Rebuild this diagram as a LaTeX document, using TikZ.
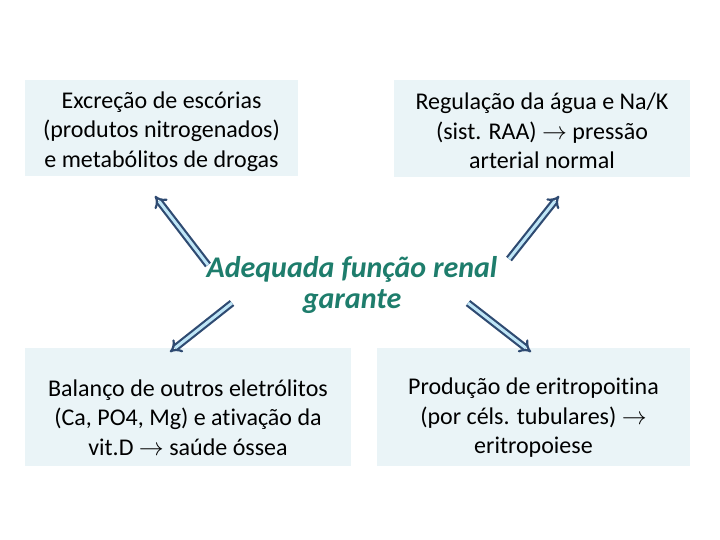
\documentclass[tikz,border=0pt]{standalone}
\usepackage{fontspec}
\setmainfont{Carlito}[Ligatures=NoCommon]
\usetikzlibrary{positioning,arrows.meta}
\definecolor{boxfill}{HTML}{EAF4F7}
\definecolor{arrline}{HTML}{2F4B72}
\definecolor{arrfill}{HTML}{BFE6F7}
\definecolor{titlegreen}{HTML}{1E7D6C}

\begin{document}
\begin{tikzpicture}[
  x=1pt, y=-1pt,
  font=\fontsize{24}{29.5}\selectfont,
  box/.style={fill=boxfill, align=center, inner sep=0pt},
  blockarr/.style={draw=arrline, double=arrfill, double distance=3pt,
                   line width=2.2pt, -{Implies[]}},
]
\useasboundingbox (0,0) rectangle (720,540);
\node[box, minimum width=273, minimum height=96] (excr) at (161.5,128)
     {\rule{0pt}{24pt}Excreção de escórias\\(produtos nitrogenados)\\e metabólitos de drogas};
\node[box, minimum width=296, minimum height=97] (regul) at (542,128.5)
     {\rule{0pt}{22pt}Regulação da água e Na/K\\(sist. RAA) $\rightarrow$ pressão\\arterial normal};
\node[box, minimum width=326, minimum height=118] (bal) at (188,407)
     {\rule{0pt}{38pt}Balanço de outros eletrólitos\\(Ca, PO4, Mg) e ativação da\\vit.D $\rightarrow$ saúde óssea};
\node[box, minimum width=313, minimum height=118] (eritro) at (533.5,407)
     {\rule{0pt}{38pt}Produção de eritropoitina\\(por céls. tubulares) $\rightarrow$\\eritropoiese};
\node[font=\fontsize{30}{31}\selectfont\bfseries\itshape, text=titlegreen,
      align=center] (func) at (352,285) {Adequada função renal\\garante};
% arrow ends
\coordinate (a1) at (208,265);  \coordinate (t1) at (155,196);
\coordinate (a2) at (509,259);  \coordinate (t2) at (559,196);
\coordinate (a3) at (232,303);  \coordinate (t3) at (170,352);
\coordinate (a4) at (468,303);  \coordinate (t4) at (531,352);
\draw[blockarr] (a1) -- (t1);
\draw[blockarr] (a2) -- (t2);
\draw[blockarr] (a3) -- (t3);
\draw[blockarr] (a4) -- (t4);
\end{tikzpicture}
\end{document}
